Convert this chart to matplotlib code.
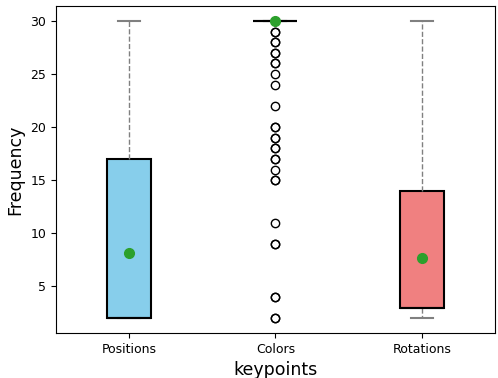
import matplotlib
matplotlib.use('Agg')
import matplotlib.pyplot as plt

# values
categories = ['Positions', 'Colors', 'Rotations']
q1 = [2, 30, 3]
medians = [2, 30, 3]
q3 = [17, 30, 14]
whislo = [2, 30, 2]
whishi = [30, 30, 30]
means = [8.1, 30, 7.7]
colors_fliers = [29, 29, 28, 28, 27, 27, 26, 26, 25, 24, 22, 20, 20, 19, 19,
                 18, 18, 17, 17, 16, 15, 15, 11, 9, 9, 4, 4, 2, 2]
fliers = [[], colors_fliers, []]
box_colors = ['skyblue', 'white', 'lightcoral']

stats = []
for i, name in enumerate(categories):
    stats.append({'label': name, 'q1': q1[i], 'med': medians[i], 'q3': q3[i],
                  'whislo': whislo[i], 'whishi': whishi[i], 'mean': means[i],
                  'fliers': fliers[i]})

fig, ax = plt.subplots(figsize=(4.98, 3.78), dpi=100)
bp = ax.bxp(stats, widths=0.3, patch_artist=True, showmeans=True,
            boxprops=dict(edgecolor='black', linewidth=1.5),
            medianprops=dict(color='black', linewidth=1.5),
            whiskerprops=dict(color='gray', linestyle='--', linewidth=1),
            capprops=dict(color='gray', linewidth=1.5),
            meanprops=dict(marker='o', markerfacecolor='#2ca02c',
                           markeredgecolor='#2ca02c', markersize=7),
            flierprops=dict(marker='o', markerfacecolor='none',
                            markeredgecolor='black', markersize=6))
for patch, c in zip(bp['boxes'], box_colors):
    patch.set_facecolor(c)

ax.set_xlabel('keypoints', fontsize=12.5)
ax.set_ylabel('Frequency', fontsize=12.5)
ax.tick_params(labelsize=9)
fig.subplots_adjust(left=0.112, right=0.994, top=0.984, bottom=0.119)
fig.savefig('out.png')
